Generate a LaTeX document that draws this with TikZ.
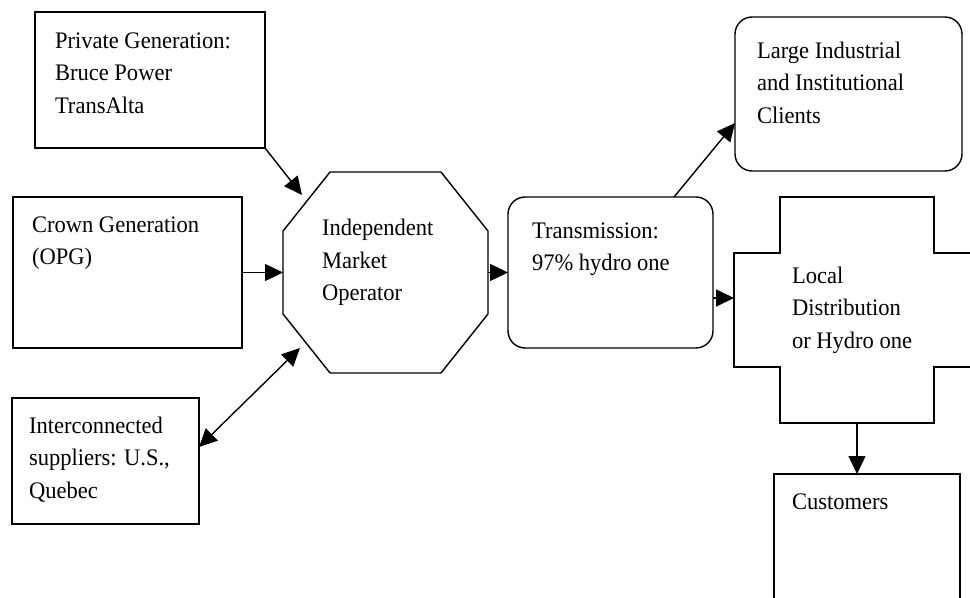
\documentclass[tikz,border=0pt]{standalone}
\usepackage{fontspec}
\setmainfont{Liberation Serif}[FakeStretch=0.95]
\usetikzlibrary{arrows.meta,calc}

\begin{document}
\begin{tikzpicture}[x=0.02cm, y=-0.02cm,
  every node/.style={outer sep=0pt, inner sep=0pt},
  >={Triangle[length=0.36cm, width=0.34cm]},
  box/.style={draw, line width=0.8pt},
  rbox/.style={box, rounded corners=0.34cm},
  txt/.style={anchor=north west, align=left, inner sep=0pt, font=\fontsize{13.5}{18.5}\selectfont},
  arr/.style={line width=0.8pt, ->}]
\useasboundingbox (0,0) rectangle (970,598);
\clip (0,0) rectangle (970,598);

% Sources
\node[box, minimum width=4.6cm, minimum height=2.72cm, label={[txt, xshift=0.4cm, yshift=-0.27cm]north west:{\strut Private Generation:\\Bruce Power\\TransAlta}}] (priv) at (150,80) {};
\node[box, minimum width=4.58cm, minimum height=3.02cm, label={[txt, xshift=0.38cm, yshift=-0.25cm]north west:{\strut Crown Generation\\(OPG)}}] (crown) at (127.5,272.5) {};
\node[box, minimum width=3.74cm, minimum height=2.52cm, label={[txt, xshift=0.34cm, yshift=-0.25cm]north west:{\strut Interconnected\\suppliers: U.S.,\\Quebec}}] (inter) at (105.5,461) {};

% Market operator
\node[minimum width=4.1cm, minimum height=4.02cm, label={[txt, xshift=0.78cm, yshift=-0.82cm]north west:{\strut Independent\\Market\\Operator}}] (imo) at (385.5,272.5) {};
\draw[box] ($(imo.north west)+(47,0)$) -- ($(imo.north east)+(-47,0)$) -- ($(imo.north east)+(0,59)$) -- ($(imo.south east)+(0,-59)$) -- ($(imo.south east)+(-47,0)$) -- ($(imo.south west)+(47,0)$) -- ($(imo.south west)+(0,-59)$) -- ($(imo.north west)+(0,59)$) -- cycle;

% Transmission and clients
\node[rbox, minimum width=4.1cm, minimum height=3.02cm, label={[txt, xshift=0.48cm, yshift=-0.37cm]north west:{\strut Transmission:\\97\% hydro one}}] (trans) at (610.5,272.5) {};
\node[rbox, minimum width=4.54cm, minimum height=3.08cm, label={[txt, xshift=0.44cm, yshift=-0.37cm]north west:{\strut Large Industrial\\and Institutional\\Clients}}] (large) at (848.5,94) {};

% Local distribution (cross)
\node[minimum width=4.92cm, minimum height=4.52cm, label={[txt, xshift=1.16cm, yshift=-1.27cm]north west:{\strut Local\\Distribution\\or Hydro one}}] (ldc) at (857,310) {};
\draw[box] ($(ldc.center)+(-77,-113)$) -- ($(ldc.center)+(77,-113)$) -- ($(ldc.center)+(77,-57)$) -- ($(ldc.center)+(123,-57)$) -- ($(ldc.center)+(123,57)$) -- ($(ldc.center)+(77,57)$) -- ($(ldc.center)+(77,113)$) -- ($(ldc.center)+(-77,113)$) -- ($(ldc.center)+(-77,57)$) -- ($(ldc.center)+(-123,57)$) -- ($(ldc.center)+(-123,-57)$) -- ($(ldc.center)+(-77,-57)$) -- cycle;

\node[box, minimum width=3.72cm, minimum height=3.32cm, label={[txt, xshift=0.36cm, yshift=-0.25cm]north west:{\strut Customers}}] (cust) at (867,557) {};

%Arrows
\coordinate (a1) at (302,195);
\coordinate (a2) at (300,348);
\coordinate (t2) at ([yshift=-0.51cm]trans.east);
\draw[arr] (priv.south east) -- (a1);
\draw[arr] (crown.east) -- (imo.west);
\draw[arr, <->] ([yshift=0.28cm]inter.east) -- (a2);
\draw[arr] (imo.east) -- (trans.west);
\draw[arr] ([xshift=1.27cm]trans.north) -- ([yshift=-0.58cm]large.west);
\draw[arr] (t2) -- (t2 -| ldc.west);
\draw[arr] (ldc.south) -- (ldc.south |- cust.north);
\end{tikzpicture}
\end{document}
